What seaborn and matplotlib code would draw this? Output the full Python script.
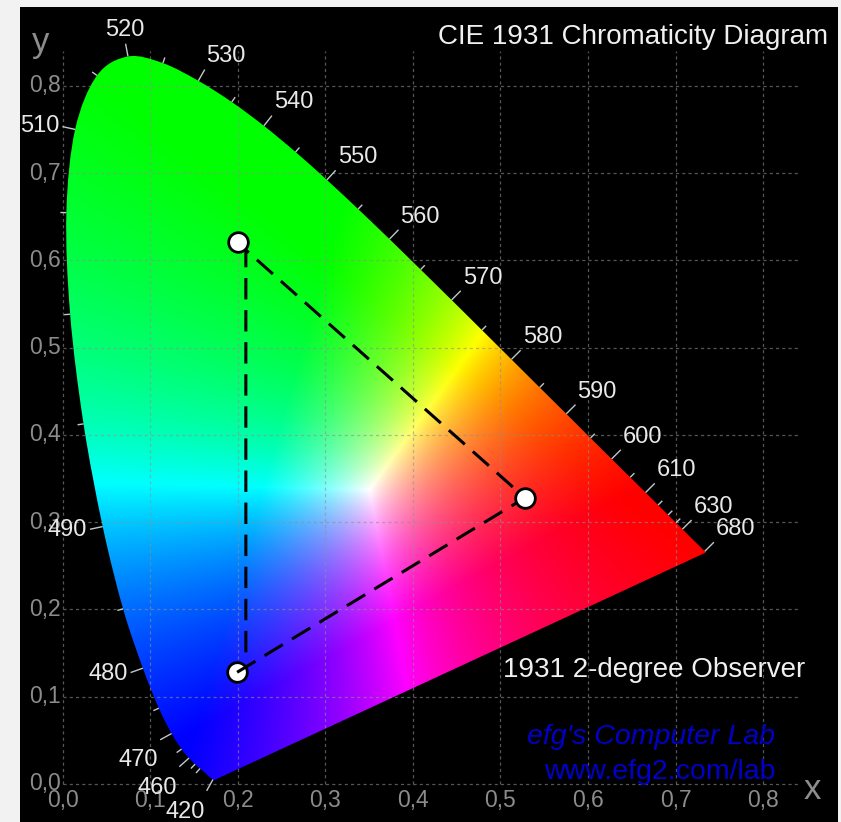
import numpy as np
import matplotlib
matplotlib.use("Agg")
import matplotlib.pyplot as plt
import seaborn as sns
from matplotlib.path import Path
from matplotlib.patches import PathPatch
from matplotlib.collections import LineCollection

# CIE 1931 2-degree spectral locus, 5 nm steps
wavelengths = list(range(380, 705, 5))
locus_x = [0.1741, 0.1740, 0.1738, 0.1736, 0.1733, 0.1730, 0.1726, 0.1721, 0.1714, 0.1703,
           0.1689, 0.1669, 0.1644, 0.1611, 0.1566, 0.1510, 0.1440, 0.1355, 0.1241, 0.1096,
           0.0913, 0.0687, 0.0454, 0.0235, 0.0082, 0.0039, 0.0139, 0.0389, 0.0743, 0.1142,
           0.1547, 0.1929, 0.2296, 0.2658, 0.3016, 0.3373, 0.3731, 0.4087, 0.4441, 0.4788,
           0.5125, 0.5448, 0.5752, 0.6029, 0.6270, 0.6482, 0.6658, 0.6801, 0.6915, 0.7006,
           0.7079, 0.7140, 0.7190, 0.7230, 0.7260, 0.7283, 0.7300, 0.7311, 0.7320, 0.7327,
           0.7334, 0.7340, 0.7344, 0.7346, 0.7347]
locus_y = [0.0050, 0.0050, 0.0049, 0.0049, 0.0048, 0.0048, 0.0048, 0.0048, 0.0051, 0.0058,
           0.0069, 0.0086, 0.0109, 0.0138, 0.0177, 0.0227, 0.0297, 0.0399, 0.0578, 0.0868,
           0.1327, 0.2007, 0.2950, 0.4127, 0.5384, 0.6548, 0.7502, 0.8120, 0.8338, 0.8262,
           0.8059, 0.7816, 0.7543, 0.7243, 0.6923, 0.6589, 0.6245, 0.5896, 0.5547, 0.5202,
           0.4866, 0.4544, 0.4242, 0.3965, 0.3725, 0.3514, 0.3340, 0.3197, 0.3083, 0.2993,
           0.2920, 0.2859, 0.2809, 0.2770, 0.2740, 0.2717, 0.2700, 0.2689, 0.2680, 0.2673,
           0.2666, 0.2660, 0.2656, 0.2654, 0.2653]

label_wl = [420, 460, 470, 480, 490, 510, 520, 530, 540, 550, 560, 570,
            580, 590, 600, 610, 630, 680]
minor_wl = [w for w in range(450, 630, 5) if w not in label_wl]

# gamut triangle as drawn (dashed) and the three primaries
gamut_x = [0.199, 0.528, 0.209, 0.209]
gamut_y = [0.128, 0.328, 0.612, 0.139]
prim_x = [0.200, 0.528]
prim_y = [0.621, 0.328]
blue_x = [0.199]
blue_y = [0.128]
white_xy = (0.350, 0.337)

grid_vals = [0.0, 0.1, 0.2, 0.3, 0.4, 0.5, 0.6, 0.7, 0.8]
grid_labels = ["0,0", "0,1", "0,2", "0,3", "0,4", "0,5", "0,6", "0,7", "0,8"]

sns.set_theme(style="dark", rc={"axes.facecolor": "black",
                                "figure.facecolor": "#f2f2f2"})
plt.rcParams["font.family"] = ["Liberation Sans", "DejaVu Sans"]

fig = plt.figure(figsize=(8.41, 8.22), dpi=100)
ax = fig.add_axes([20 / 841, 0, 818 / 841, 815 / 822])
ax.set_xlim(-0.0491, 0.8857)
ax.set_ylim(-0.0436, 0.8905)
ax.set_axis_off()
ax.add_patch(plt.Rectangle((0, 0), 1, 1, transform=ax.transAxes,
                           color="black", zorder=0))

# colour fill of the horseshoe
m = np.array([[3.2406, -1.5372, -0.4986],
              [-0.9689, 1.8758, 0.0415],
              [0.0557, -0.2040, 1.0570]])


def to_rgb(x, y):
    ys = np.maximum(y, 1e-4)
    xyz = np.stack([x / ys, np.ones_like(x), (1 - x - y) / ys], axis=-1)
    return xyz @ m.T


gx = np.linspace(0, 0.75, 750)
gy = np.linspace(0, 0.85, 850)
X, Y = np.meshgrid(gx, gy)
rgb = to_rgb(X, Y) / to_rgb(np.array(white_xy[0]), np.array(white_xy[1]))
rgb = np.clip(rgb, 0, None)
rgb = rgb / np.maximum(rgb.max(axis=-1, keepdims=True), 1e-9)

# smooth outline through the locus points, straight line of purples
pts = np.column_stack([locus_x, locus_y])
verts = [pts[0]]
codes = [Path.MOVETO]
for i in range(len(pts) - 1):
    p0 = pts[max(i - 1, 0)]
    p3 = pts[min(i + 2, len(pts) - 1)]
    c1 = pts[i] + (pts[i + 1] - p0) / 6
    c2 = pts[i + 1] - (p3 - pts[i]) / 6
    verts += [c1, c2, pts[i + 1]]
    codes += [Path.CURVE4] * 3
verts += [pts[0], pts[0]]
codes += [Path.LINETO, Path.CLOSEPOLY]
shape = PathPatch(Path(verts, codes), transform=ax.transData, facecolor="none")

im = ax.imshow(rgb, origin="lower", extent=(0, 0.75, 0, 0.85),
               interpolation="bilinear", aspect="auto", zorder=1)
im.set_clip_path(shape)

# grid
ax.vlines(grid_vals, 0, 0.84, colors="#909090", lw=0.9, linestyles=(0, (2.5, 2.5)),
          alpha=0.6, zorder=2)
ax.hlines(grid_vals, 0, 0.84, colors="#909090", lw=0.9, linestyles=(0, (2.5, 2.5)),
          alpha=0.6, zorder=2)

for v, t in zip(grid_vals, grid_labels):
    ax.text(v, -0.0185, t, ha="center", va="center", fontsize=16.5,
            color="#8c8c8c", zorder=3)
    ax.text(-0.002, v, t, ha="right", va="center", fontsize=16.5,
            color="#8c8c8c", zorder=3)

ax.text(0.856, -0.006, "x", ha="center", va="center", fontsize=25, color="#8c8c8c")
ax.text(-0.025, 0.850, "y", ha="center", va="center", fontsize=25, color="#8c8c8c")

# wavelength ticks and labels
px = 1 / 874
lx = np.array(locus_x)
ly = np.array(locus_y)


def outward_normal(w):
    i = wavelengths.index(w)
    i0, i1 = max(i - 1, 0), min(i + 1, len(wavelengths) - 1)
    t = np.array([lx[i1] - lx[i0], ly[i1] - ly[i0]])
    t = t / np.hypot(*t)
    n = np.array([t[1], -t[0]])
    p = np.array([lx[i], ly[i]])
    if np.dot(n, np.array([0.33, 0.33]) - p) > 0:
        n = -n
    return p, n


segs = []
for w in minor_wl:
    p, n = outward_normal(w)
    segs.append([p, p + n * 6 * px])
for w in label_wl:
    p, n = outward_normal(w)
    end = p + n * 13 * px
    segs.append([p, end])
    ha = "left" if n[0] > 0.4 else ("right" if n[0] < -0.4 else "center")
    va = "bottom" if n[1] > 0.4 else ("top" if n[1] < -0.4 else "center")
    q = end + n * 3 * px
    if va == "top":
        q = q - np.array([0, 8 * px])
    ax.text(q[0], q[1], str(w), ha=ha, va=va, fontsize=17,
            color="#e8e8e8", zorder=6)
ax.add_collection(LineCollection(segs, colors="#c0c8cc", linewidths=1, zorder=3))

# gamut triangle and primaries
sns.scatterplot(x=blue_x, y=blue_y, ax=ax, s=200, color="white",
                edgecolor="black", linewidth=2, zorder=3)
sns.lineplot(x=gamut_x, y=gamut_y, ax=ax, sort=False, estimator=None,
             color="black", lw=2.2, linestyle=(0, (7, 3.5)), zorder=4)
sns.scatterplot(x=prim_x, y=prim_y, ax=ax, s=200, color="white",
                edgecolor="black", linewidth=2, zorder=5)

# texts
ax.text(0.874, 0.856, "CIE 1931 Chromaticity Diagram", ha="right", va="center",
        fontsize=20, color="#f0f0f0")
ax.text(0.848, 0.131, "1931 2-degree Observer", ha="right", va="center",
        fontsize=20, color="#f0f0f0")
ax.text(0.814, 0.054, "efg's Computer Lab", ha="right", va="center",
        fontsize=20.5, color="#0000c8", style="italic")
ax.text(0.814, 0.014, "www.efg2.com/lab", ha="right", va="center",
        fontsize=20.5, color="#0000c8")

fig.savefig("out.png", dpi=100)
